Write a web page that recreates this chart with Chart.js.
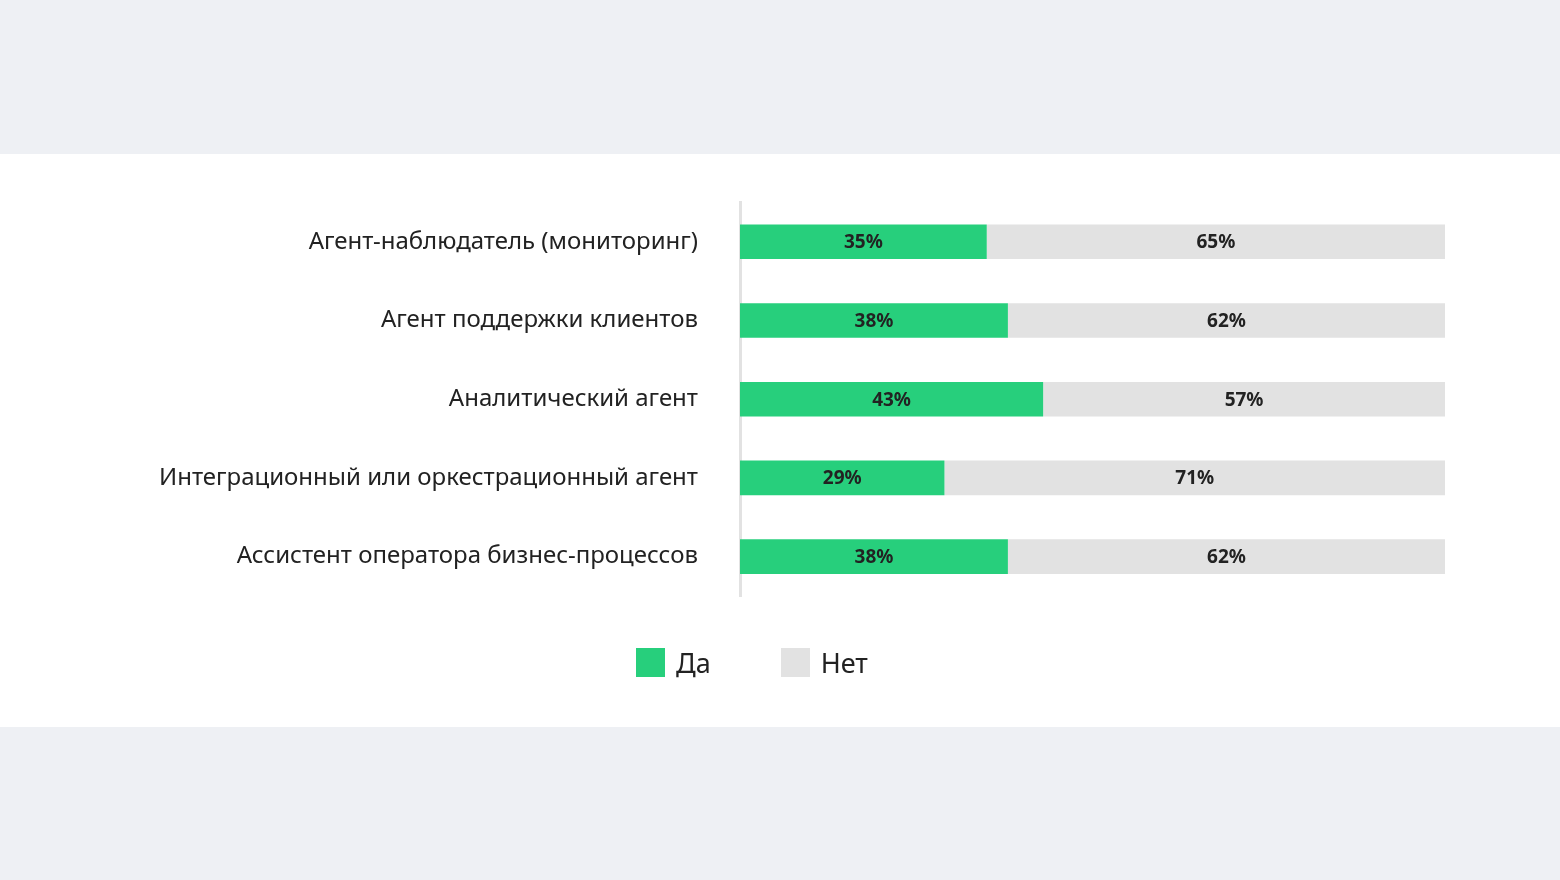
<!DOCTYPE html>
<html>
<head>
<meta charset="utf-8">
<script src="https://cdn.jsdelivr.net/npm/chart.js@4/dist/chart.umd.min.js"></script>
<style>
  html, body { margin: 0; padding: 0; background: #eef0f4; width: 1560px; height: 880px; overflow: hidden; font-family: "Noto Sans", sans-serif; }
  #band { position: absolute; left: 0; top: 154px; width: 1560px; height: 573px; background: #fff; }
  #wrap { position: absolute; left: 0; top: 0; width: 1560px; height: 573px; }
  #legend { position: absolute; top: 490px; left: 636px; display: flex; align-items: center; font-size: 27px; color: #222; }
  #legend span.box { display: inline-block; width: 29px; height: 29px; margin-right: 11px; }
  #legend .item { display: flex; align-items: center; margin-right: 70px; }
</style>
</head>
<body>
<div id="band">
  <div id="wrap"><canvas id="chart"></canvas></div>
  <div id="legend"></div>
</div>
<script>
var categories = [
  'Агент-наблюдатель (мониторинг)',
  'Агент поддержки клиентов',
  'Аналитический агент',
  'Интеграционный или оркестрационный агент',
  'Ассистент оператора бизнес-процессов'
];
var yesValues = [35, 38, 43, 29, 38];
var noValues = [65, 62, 57, 71, 62];
var seriesNames = ['Да', 'Нет'];
var seriesColors = ['#27cf7c', '#e2e2e2'];

// подписи внутри столбцов
var barLabels = {
  id: 'barLabels',
  afterDatasetsDraw: function (chart) {
    var ctx = chart.ctx;
    ctx.save();
    ctx.font = 'bold 19px "Noto Sans"';
    ctx.fillStyle = '#222';
    ctx.textAlign = 'center';
    ctx.textBaseline = 'middle';
    chart.data.datasets.forEach(function (ds, i) {
      chart.getDatasetMeta(i).data.forEach(function (bar, j) {
        ctx.fillText(ds.data[j] + '%', (bar.x + bar.base) / 2, bar.y + 1);
      });
    });
    ctx.restore();
  }
};

new Chart(document.getElementById('chart'), {
  type: 'bar',
  data: {
    labels: categories,
    datasets: [
      { label: seriesNames[0], data: yesValues, backgroundColor: seriesColors[0] },
      { label: seriesNames[1], data: noValues, backgroundColor: seriesColors[1] }
    ]
  },
  options: {
    indexAxis: 'y',
    responsive: true,
    maintainAspectRatio: false,
    animation: false,
    layout: { padding: { top: 43, right: 115, bottom: 131, left: 0 } },
    datasets: { bar: { categoryPercentage: 0.44, barPercentage: 1 } },
    plugins: { legend: { display: false }, tooltip: { enabled: false } },
    scales: {
      x: { stacked: true, min: 0, max: 100, display: false },
      y: {
        stacked: true,
        grid: { display: false },
        border: { display: true, color: '#e2e2e2', width: 3 },
        ticks: { color: '#222', padding: 34, font: { size: 24, family: 'Noto Sans' } },
        afterFit: function (scale) { scale.width = 740; }
      }
    }
  },
  plugins: [barLabels]
});

var legend = document.getElementById('legend');
seriesNames.forEach(function (name, i) {
  var item = document.createElement('div');
  item.className = 'item';
  item.innerHTML = '<span class="box" style="background:' + seriesColors[i] + '"></span>' + name;
  legend.appendChild(item);
});
</script>
</body>
</html>
